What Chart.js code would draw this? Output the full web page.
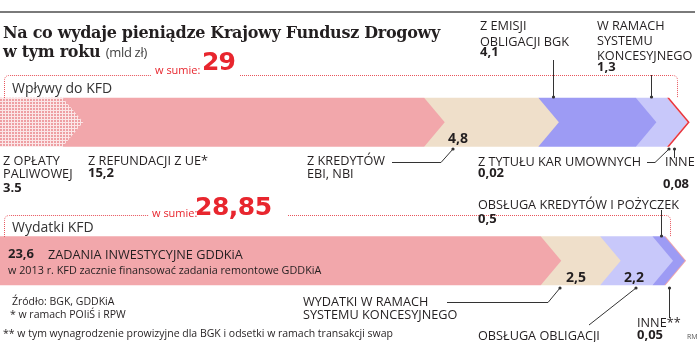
<!DOCTYPE html>
<html lang="pl">
<head>
<meta charset="utf-8">
<script src="https://cdn.jsdelivr.net/npm/chart.js@4/dist/chart.umd.min.js"></script>
<style>
  html, body { margin: 0; padding: 0; background: #fff; }
  #wrap { position: relative; width: 698px; height: 342px; overflow: hidden; }
  #c { position: absolute; left: 0; top: 0; }
  .t { position: absolute; white-space: nowrap; line-height: 1; color: #231f20; font-family: "Open Sans", sans-serif; }
</style>
</head>
<body>
<div id="wrap"><canvas id="c" width="698" height="342"></canvas></div>
<script>
// ---- data ----
const categories = ['Wpływy do KFD', 'Wydatki KFD'];
const inflowLabels = ['Z opłaty paliwowej', 'Z refundacji z UE*', 'Z kredytów EBI, NBI', 'Z emisji obligacji BGK', 'W ramach systemu koncesyjnego', 'Z tytułu kar umownych', 'Inne'];
const inflowValues = [3.5, 15.2, 4.8, 4.1, 1.3, 0.02, 0.08];
const outflowLabels = ['Zadania inwestycyjne GDDKiA', 'Wydatki w ramach systemu koncesyjnego', 'Obsługa obligacji', 'Obsługa kredytów i pożyczek', 'Inne**'];
const outflowValues = [23.6, 2.5, 2.2, 0.5, 0.05];
const totals = ['29', '28,85'];

// ---- colours ----
function dotPattern() {
  const p = document.createElement('canvas');
  p.width = 3; p.height = 3;
  const g = p.getContext('2d');
  g.fillStyle = '#fbe6e7'; g.fillRect(0, 0, 3, 3);
  g.fillStyle = '#ee9fa3'; g.fillRect(0, 0, 2, 2);
  return g.createPattern(p, 'repeat');
}
const inflowColors = [dotPattern(), '#f2a7ab', '#efdfca', '#9d9bf4', '#c8c8fa', '#f6a9ab', '#e8343e'];
const outflowColors = ['#f2a7ab', '#efdfca', '#c8c8fa', '#9d9bf4', '#f2a7ab'];

const n = Math.max(inflowValues.length, outflowValues.length);
const datasets = [];
for (let i = 0; i < n; i++) {
  datasets.push({
    label: (inflowLabels[i] || '') + ' / ' + (outflowLabels[i] || ''),
    data: [inflowValues[i] ?? null, outflowValues[i] ?? null],
    backgroundColor: [inflowColors[i] || 'transparent', outflowColors[i] || 'transparent'],
    borderWidth: 0,
    barThickness: 49,
    stack: 's'
  });
}

// chevron-shaped bars, drawn from the bar elements the library laid out
const chevronPlugin = {
  id: 'chevrons',
  beforeDatasetsDraw(chart) {
    const ctx = chart.ctx;
    const ds = chart.data.datasets;
    for (let row = 0; row < chart.data.labels.length; row++) {
      for (let i = ds.length - 1; i >= 0; i--) {
        const v = ds[i].data[row];
        if (v == null || v === 0) continue;
        const el = chart.getDatasetMeta(i).data[row];
        const p = el.getProps(['x', 'y', 'base', 'height'], true);
        const h2 = p.height / 2, d = h2 * 0.84;
        const left = i === 0 ? p.base : p.base - d;
        ctx.save();
        ctx.beginPath();
        ctx.moveTo(left, p.y - h2);
        ctx.lineTo(p.x - d, p.y - h2);
        ctx.lineTo(p.x, p.y);
        ctx.lineTo(p.x - d, p.y + h2);
        ctx.lineTo(left, p.y + h2);
        ctx.closePath();
        ctx.fillStyle = ds[i].backgroundColor[row];
        ctx.fill();
        ctx.restore();
      }
    }
    return false;
  }
};

// frames, rule and leader lines
const decoPlugin = {
  id: 'deco',
  afterDraw(chart) {
    const ctx = chart.ctx;
    ctx.save();
    ctx.strokeStyle = '#7a7a7a'; ctx.lineWidth = 2;
    ctx.beginPath(); ctx.moveTo(0, 12); ctx.lineTo(695, 12); ctx.stroke();
    // dotted red frames
    ctx.strokeStyle = '#e8555c'; ctx.lineWidth = 1; ctx.setLineDash([1, 1]);
    const frame = (y, xl, gapA, gapB, xr, yb) => {
      ctx.beginPath();
      ctx.moveTo(xl, yb); ctx.lineTo(xl, y + 5); ctx.quadraticCurveTo(xl, y, xl + 5, y); ctx.lineTo(gapA, y);
      ctx.moveTo(gapB, y); ctx.lineTo(xr - 5, y); ctx.quadraticCurveTo(xr, y, xr, y + 5); ctx.lineTo(xr, yb);
      ctx.stroke();
    };
    frame(75.5, 4.5, 151, 240, 677.5, 98);
    frame(215.5, 4.5, 149, 288, 670.5, 237);
    ctx.setLineDash([]);
    ctx.strokeStyle = '#333'; ctx.fillStyle = '#333'; ctx.lineWidth = 1;
    const leader = (pts) => {
      ctx.beginPath();
      ctx.moveTo(pts[0][0], pts[0][1]);
      for (let k = 1; k < pts.length; k++) ctx.lineTo(pts[k][0], pts[k][1]);
      ctx.stroke();
      const e = pts[pts.length - 1];
      ctx.beginPath(); ctx.arc(e[0], e[1], 1.6, 0, Math.PI * 2); ctx.fill();
    };
    leader([[553.5, 60], [553.5, 97]]);
    leader([[651.5, 75], [651.5, 97]]);
    leader([[392, 162.5], [441, 162.5], [453, 149]]);
    leader([[647, 162.5], [655, 162.5], [669, 149]]);
    leader([[674.5, 158], [674.5, 149]]);
    leader([[661.5, 210], [661.5, 236]]);
    leader([[447, 302.5], [548, 302.5], [560, 288]]);
    leader([[589, 325], [636, 288]]);
    leader([[669.5, 318], [669.5, 288]]);
    ctx.restore();
  }
};

new Chart(document.getElementById('c'), {
  type: 'bar',
  data: { labels: categories, datasets },
  options: {
    indexAxis: 'y',
    responsive: false,
    animation: false,
    layout: { padding: { top: 53, bottom: 12, left: 0, right: 0 } },
    scales: {
      x: { stacked: true, min: 0, max: 29.35, display: false },
      y: { stacked: true, display: false }
    },
    plugins: { legend: { display: false }, tooltip: { enabled: false }, title: { display: false } }
  },
  plugins: [decoPlugin, chevronPlugin]
});

// ---- text ----
const wrap = document.getElementById('wrap');
function lab(html, x, base, size, o = {}) {
  const d = document.createElement('div');
  d.className = 't';
  d.innerHTML = html;
  const k = o.k ?? 0.89;
  d.style.left = x + 'px';
  d.style.top = (base - k * size) + 'px';
  d.style.fontSize = size + 'px';
  if (o.w) d.style.fontWeight = o.w;
  if (o.c) d.style.color = o.c;
  if (o.f) d.style.fontFamily = o.f;
  if (o.ls) d.style.letterSpacing = o.ls;
  wrap.appendChild(d);
  return d;
}
const serif = '"DejaVu Serif", serif';
const bigF = '"DejaVu Sans", sans-serif';
lab('Na co wydaje pieniądze Krajowy Fundusz Drogowy', 3, 39, 16, { w: 'bold', f: serif, k: 0.85, ls: '-0.3px' });
lab('w tym roku <span style="font-family:\'Open Sans\',sans-serif;font-weight:normal;font-size:13px;color:#444">(mld zł)</span>', 3, 58, 16, { w: 'bold', f: serif, k: 0.85, ls: '-0.3px' });

lab('w sumie:', 155, 74, 11, { c: '#e8262e' });
lab(totals[0], 202, 72, 25, { w: 'bold', c: '#e8262e', f: bigF, k: 0.93, ls: '-1px' });
lab('w sumie:', 152, 217, 11, { c: '#e8262e' });
lab(totals[1], 195, 217, 25, { w: 'bold', c: '#e8262e', f: bigF, k: 0.93, ls: '-0.5px' });

lab(categories[0], 12, 93, 14, { c: '#333' });
lab(categories[1], 12, 232, 14, { c: '#333' });

const U = 12.7, B = 13;
lab('Z EMISJI', 480, 30, U); lab('OBLIGACJI BGK', 480, 46, U); lab('4,1', 480, 57, B, { w: 'bold' });
lab('W RAMACH', 597, 30, U); lab('SYSTEMU', 597, 45, U); lab('KONCESYJNEGO', 597, 60, U); lab('1,3', 597, 72, B, { w: 'bold' });

lab('Z OPŁATY', 3, 165, U); lab('PALIWOWEJ', 3, 178, U); lab('3.5', 3, 193, B, { w: 'bold' });
lab('Z REFUNDACJI Z UE*', 88, 165, U); lab('15,2', 88, 178, B, { w: 'bold' });
lab('Z KREDYTÓW', 307, 165, U); lab('EBI, NBI', 307, 178, U);
lab('4,8', 448, 143, 14, { w: 'bold' });
lab('Z TYTUŁU KAR UMOWNYCH', 478, 166, U); lab('0,02', 478, 178, B, { w: 'bold' });
lab('INNE', 665, 166, U); lab('0,08', 663, 189, B, { w: 'bold' });

lab('OBSŁUGA KREDYTÓW I POŻYCZEK', 478, 209, U); lab('0,5', 478, 224, B, { w: 'bold' });
lab('23,6', 8, 259, 13, { w: 'bold' });
lab('ZADANIA INWESTYCYJNE GDDKiA', 48, 259, U);
lab('w 2013 r. KFD zacznie finansować zadania remontowe GDDKiA', 8, 275, 10.8);
lab('2,5', 566, 282, 14, { w: 'bold' });
lab('2,2', 624, 282, 14, { w: 'bold' });

lab('Źródło: BGK, GDDKiA', 12, 305, 10.5);
lab('* w ramach POIiŚ i RPW', 10, 318, 10.5);
lab('** w tym wynagrodzenie prowizyjne dla BGK i odsetki w ramach transakcji swap', 3, 337, 10.5);
lab('WYDATKI W RAMACH', 303, 306, U); lab('SYSTEMU KONCESYJNEGO', 303, 319, U);
lab('OBSŁUGA OBLIGACJI', 478, 340, U);
lab('INNE**', 637, 327, U); lab('0,05', 637, 340, B, { w: 'bold' });
lab('RM', 687, 339, 7, { c: '#555' });
</script>
</body>
</html>
